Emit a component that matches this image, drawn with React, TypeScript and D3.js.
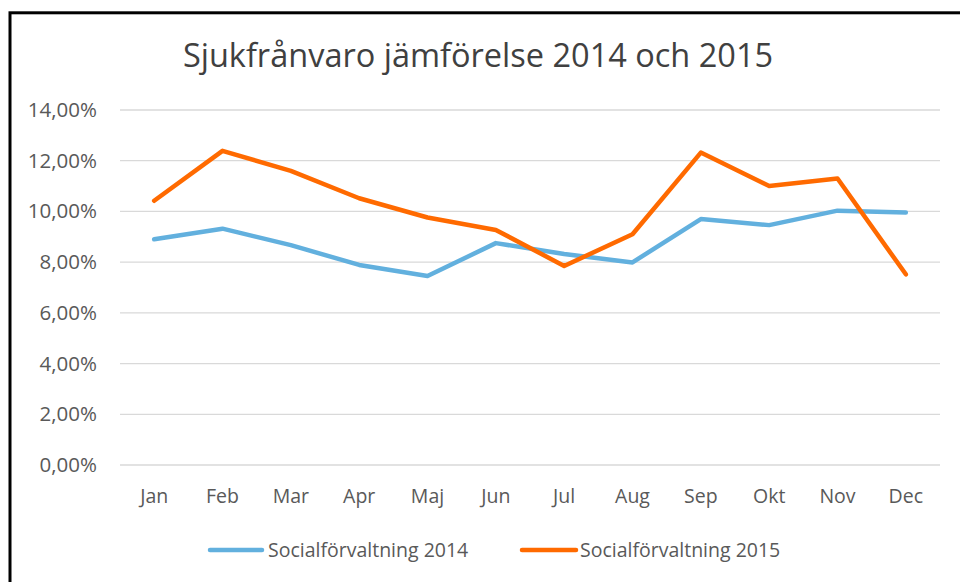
import React from "react";
import * as d3 from "d3";

const months = ["Jan", "Feb", "Mar", "Apr", "Maj", "Jun", "Jul", "Aug", "Sep", "Okt", "Nov", "Dec"];
const values2014 = [8.9, 9.32, 8.67, 7.89, 7.45, 8.75, 8.32, 7.99, 9.7, 9.46, 10.03, 9.96];
const values2015 = [10.42, 12.39, 11.6, 10.52, 9.76, 9.27, 7.85, 9.1, 12.32, 11.0, 11.3, 7.52];
const yTicks = [0, 2, 4, 6, 8, 10, 12, 14];
const seriesNames = ["Socialförvaltning 2014", "Socialförvaltning 2015"];
const titleText = "Sjukfrånvaro jämförelse 2014 och 2015";

const W = 960;
const H = 582;
const FONT = "'Open Sans', sans-serif";
const TEXT = "#595959";
const BLUE = "#62B0DE";
const ORANGE = "#FF6A00";

export default function App() {
  const x = d3.scaleBand<string>().domain(months).range([120, 940]);
  const y = d3.scaleLinear().domain([0, 14]).range([465, 110]);
  const line = d3
    .line<number>()
    .x((_, i) => (x(months[i]) as number) + x.bandwidth() / 2)
    .y((d) => y(d));
  const fmt = (v: number) => v.toFixed(2).replace(".", ",") + "%";

  return (
    <svg
      width={W}
      height={H}
      style={{ position: "absolute", left: 0, top: 0, background: "#fff" }}
    >
      <rect x={0} y={0} width={W} height={H} fill="#fff" />
      <rect x={10} y={12.8} width={1200} height={1200} fill="none" stroke="#000" strokeWidth={3} />
      <text x={478} y={67} textAnchor="middle" fontFamily={FONT} fontSize={32.5} fill="#404040">
        {titleText}
      </text>
      {yTicks.map((t) => (
        <g key={t}>
          <line x1={120} x2={940} y1={y(t)} y2={y(t)} stroke="#D9D9D9" strokeWidth={1.3} />
          <text x={97} y={y(t) + 7} textAnchor="end" fontFamily={FONT} fontSize={20.5} fill={TEXT}>
            {fmt(t)}
          </text>
        </g>
      ))}
      {months.map((m) => (
        <text
          key={m}
          x={(x(m) as number) + x.bandwidth() / 2}
          y={503}
          textAnchor="middle"
          fontFamily={FONT}
          fontSize={19.5}
          fill={TEXT}
        >
          {m}
        </text>
      ))}
      <path d={line(values2014) || ""} fill="none" stroke={BLUE} strokeWidth={4.5} strokeLinejoin="round" strokeLinecap="round" />
      <path d={line(values2015) || ""} fill="none" stroke={ORANGE} strokeWidth={4.5} strokeLinejoin="round" strokeLinecap="round" />
      <line x1={210} x2={262} y1={550} y2={550} stroke={BLUE} strokeWidth={4.5} strokeLinecap="round" />
      <text x={268} y={556.5} fontFamily={FONT} fontSize={19.5} fill={TEXT}>
        {seriesNames[0]}
      </text>
      <line x1={522} x2={576} y1={550} y2={550} stroke={ORANGE} strokeWidth={4.5} strokeLinecap="round" />
      <text x={580} y={556.5} fontFamily={FONT} fontSize={19.5} fill={TEXT}>
        {seriesNames[1]}
      </text>
    </svg>
  );
}
